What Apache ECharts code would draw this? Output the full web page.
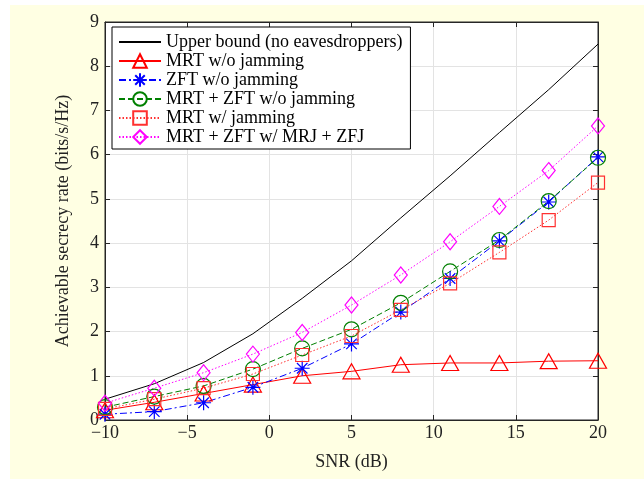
<!DOCTYPE html>
<html>
<head>
<meta charset="utf-8">
<script src="https://cdn.jsdelivr.net/npm/echarts@6/dist/echarts.min.js"></script>
<style>
  body { margin: 0; background: #fff; }
  #bg { position: absolute; left: 10px; top: 5px; width: 634px; height: 474px; background: #ffffe3; }
  #chart { position: absolute; left: 0; top: 0; width: 644px; height: 479px; }
</style>
</head>
<body>
<div id="bg"></div>
<div id="chart"></div>
<script>
// SNR points (dB)
var snr = [-10, -7, -4, -1, 2, 5, 8, 11, 14, 17, 20];

var upperBound = [0.47, 0.82, 1.3, 1.95, 2.75, 3.6, 4.57, 5.52, 6.5, 7.47, 8.5];
var mrtNoJam = [0.22, 0.4, 0.6, 0.8, 1.0, 1.1, 1.25, 1.29, 1.29, 1.33, 1.34];
var zftNoJam = [0.13, 0.19, 0.39, 0.74, 1.17, 1.72, 2.44, 3.2, 4.05, 4.93, 5.95];
var mrtZftNoJam = [0.29, 0.53, 0.77, 1.15, 1.62, 2.05, 2.65, 3.36, 4.07, 4.95, 5.93];
var mrtJam = [0.25, 0.47, 0.72, 1.04, 1.47, 1.9, 2.49, 3.09, 3.79, 4.52, 5.37];
var mrtZftJam = [0.38, 0.72, 1.07, 1.49, 1.98, 2.6, 3.28, 4.03, 4.83, 5.64, 6.65];

var xTicks = { min: -10, max: 20, interval: 5 };
var yTicks = { min: 0, max: 9, interval: 1 };

var font = "'Liberation Serif', 'Times New Roman', serif";
var asterisk = 'path://M0,-1L0,1M-1,0L1,0M-0.7,-0.7L0.7,0.7M-0.7,0.7L0.7,-0.7';

function pts(vals) {
  return snr.map(function (x, i) { return [x, vals[i]]; });
}

function mk(name, vals, color, type, symbol, size) {
  return {
    name: name,
    type: 'line',
    data: pts(vals),
    symbol: symbol,
    symbolSize: size,
    lineStyle: { color: color, width: 1, type: type },
    itemStyle: { color: 'rgba(0,0,0,0)', borderColor: color, borderWidth: 1.2 },
    emphasis: { disabled: true },
    animation: false
  };
}

var series = [
  mk('Upper bound (no eavesdroppers)', upperBound, '#000000', 'solid', 'none', 0),
  mk('MRT w/o jamming', mrtNoJam, '#ff0000', 'solid', 'triangle', [17, 15]),
  mk('ZFT w/o jamming', zftNoJam, '#0000ff', [7, 3, 2, 3], asterisk, [15, 15]),
  mk('MRT + ZFT w/o jamming', mrtZftNoJam, '#008000', [6, 3], 'circle', 15),
  mk('MRT w/ jamming', mrtJam, '#ff3030', [1.5, 2], 'rect', 13),
  mk('MRT + ZFT w/ MRJ + ZFJ', mrtZftJam, '#ff00ff', [1.5, 2], 'diamond', [13, 16])
];

var legendData = series.map(function (s, i) {
  if (i === 0) {
    return { name: s.name, itemStyle: { color: 'rgba(0,0,0,0)', borderColor: 'rgba(0,0,0,0)', borderWidth: 0 } };
  }
  return { name: s.name };
});

var minus = function (v) { return String(v).replace('-', '\u2212'); };

var chart = echarts.init(document.getElementById('chart'));
chart.setOption({
  backgroundColor: 'transparent',
  textStyle: { fontFamily: font },
  grid: {
    left: 105, right: 46, top: 22, bottom: 59,
    show: true, backgroundColor: '#fff', borderColor: '#262626', borderWidth: 1
  },
  legend: {
    orient: 'vertical',
    left: 112, top: 27,
    padding: [6, 8, 3, 6],
    itemGap: 1,
    itemWidth: 42,
    itemHeight: 17,
    backgroundColor: '#fff',
    borderColor: '#000',
    borderWidth: 1,
    textStyle: { fontFamily: font, fontSize: 18, color: '#000' },
    data: legendData
  },
  xAxis: [{
    type: 'value', min: xTicks.min, max: xTicks.max, interval: xTicks.interval,
    name: 'SNR (dB)', nameLocation: 'middle', nameGap: 33,
    nameTextStyle: { fontFamily: font, fontSize: 18, color: '#222' },
    axisLine: { onZero: false, lineStyle: { color: '#262626' } },
    axisTick: { inside: true, length: 5, lineStyle: { color: '#262626' } },
    axisLabel: { fontFamily: font, fontSize: 18, color: '#222', margin: 4, formatter: minus },
    splitLine: { lineStyle: { color: '#e3e3e3' } }
  }, {
    type: 'value', position: 'top', min: xTicks.min, max: xTicks.max, interval: xTicks.interval,
    axisLine: { onZero: false, lineStyle: { color: '#262626' } },
    axisTick: { inside: true, length: 5, lineStyle: { color: '#262626' } },
    axisLabel: { show: false }, splitLine: { show: false }
  }],
  yAxis: [{
    type: 'value', min: yTicks.min, max: yTicks.max, interval: yTicks.interval,
    name: 'Achievable secrecy rate (bits/s/Hz)', nameLocation: 'middle', nameGap: 33,
    nameTextStyle: { fontFamily: font, fontSize: 18, color: '#222' },
    axisLine: { show: true, onZero: false, lineStyle: { color: '#262626' } },
    axisTick: { show: true, inside: true, length: 5, lineStyle: { color: '#262626' } },
    axisLabel: { fontFamily: font, fontSize: 18, color: '#222', margin: 6 },
    splitLine: { lineStyle: { color: '#e3e3e3' } }
  }, {
    type: 'value', position: 'right', min: yTicks.min, max: yTicks.max, interval: yTicks.interval,
    axisLine: { show: true, onZero: false, lineStyle: { color: '#262626' } },
    axisTick: { show: true, inside: true, length: 5, lineStyle: { color: '#262626' } },
    axisLabel: { show: false }, splitLine: { show: false }
  }],
  series: series
});
</script>
</body>
</html>
